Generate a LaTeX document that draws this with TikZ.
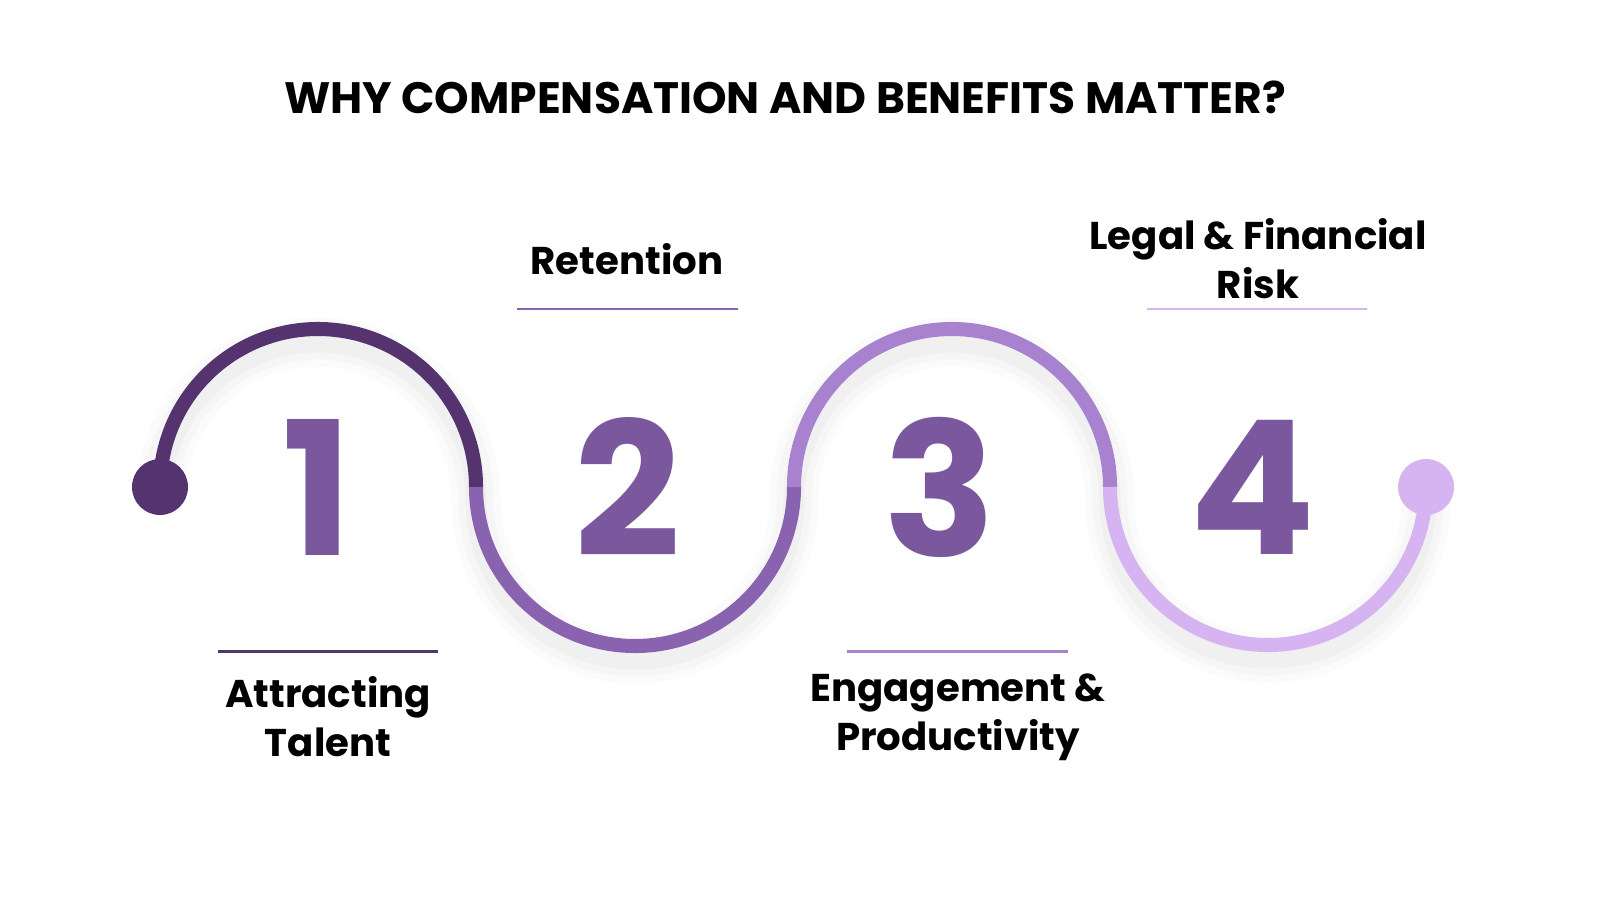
\documentclass[tikz,border=0pt]{standalone}
\usepackage{fontspec}
\setmainfont{Poppins}
\definecolor{cA}{HTML}{55336F}
\definecolor{cB}{HTML}{8A63B0}
\definecolor{cC}{HTML}{A982CF}
\definecolor{cD}{HTML}{D6B4F2}
\definecolor{num}{HTML}{7B579E}
\tikzset{
  arcline/.style={line width=4pt},
  numtxt/.style={font=\fontsize{53}{53}\selectfont\bfseries, text=num},
  lbl/.style={font=\fontsize{11}{14}\selectfont\bfseries, align=center, text=black},
  uline/.style={line width=0.85pt}
}
\begin{document}
\begin{tikzpicture}[x=0.01cm,y=-0.01cm]
\useasboundingbox (0,0) rectangle (1600,900);
\fill[white] (0,0) rectangle (1600,900);
\node[font=\fontsize{12.5}{14}\selectfont\bfseries] (title) at (785,97) {WHY COMPENSATION AND BENEFITS MATTER?};
% shadow
\foreach \o/\op in {14/0.015,10/0.02,6/0.025}{
\draw[black, opacity=\op, line width=\o pt] (160,500) arc[start angle=180,end angle=360,radius=158]
  arc[start angle=180,end angle=0,radius=159] arc[start angle=180,end angle=360,radius=158] arc[start angle=180,end angle=0,radius=158];}
\coordinate (p0) at (160,487);
\coordinate (p1) at (476,487);
\coordinate (p2) at (794,487);
\coordinate (p3) at (1110,487);
\coordinate (p4) at (1426,487);
\draw[arcline, cA] (p0) arc[start angle=180,end angle=360,radius=158];
\draw[arcline, cB] (p1) arc[start angle=180,end angle=0,radius=159];
\draw[arcline, cC] (p2) arc[start angle=180,end angle=360,radius=158];
\draw[arcline, cD] (p3) arc[start angle=180,end angle=0,radius=158];
\fill[cA] (p0) circle (28);
\fill[cD] (p4) circle (28);
\node[numtxt] (n1) at (318,487) {1};
\node[numtxt] (n2) at (628,487) {2};
\node[numtxt] (n3) at (940,487) {3};
\node[numtxt] (n4) at (1253,487) {4};
\draw[uline, cA] (218,651) -- (438,651);
\draw[uline, cB] (517,309) -- (738,309);
\draw[uline, cC] (847,651) -- (1068,651);
\draw[uline, cD] (1147,309) -- (1367,309);
\node[lbl] (l1) at (328,717) {Attracting\\Talent};
\node[lbl] (l2) at (627,259) {Retention};
\node[lbl] (l3) at (958,717) {Engagement \&\\Productivity};
\node[lbl] (l4) at (1258,259) {Legal \& Financial\\Risk};
\end{tikzpicture}
\end{document}
